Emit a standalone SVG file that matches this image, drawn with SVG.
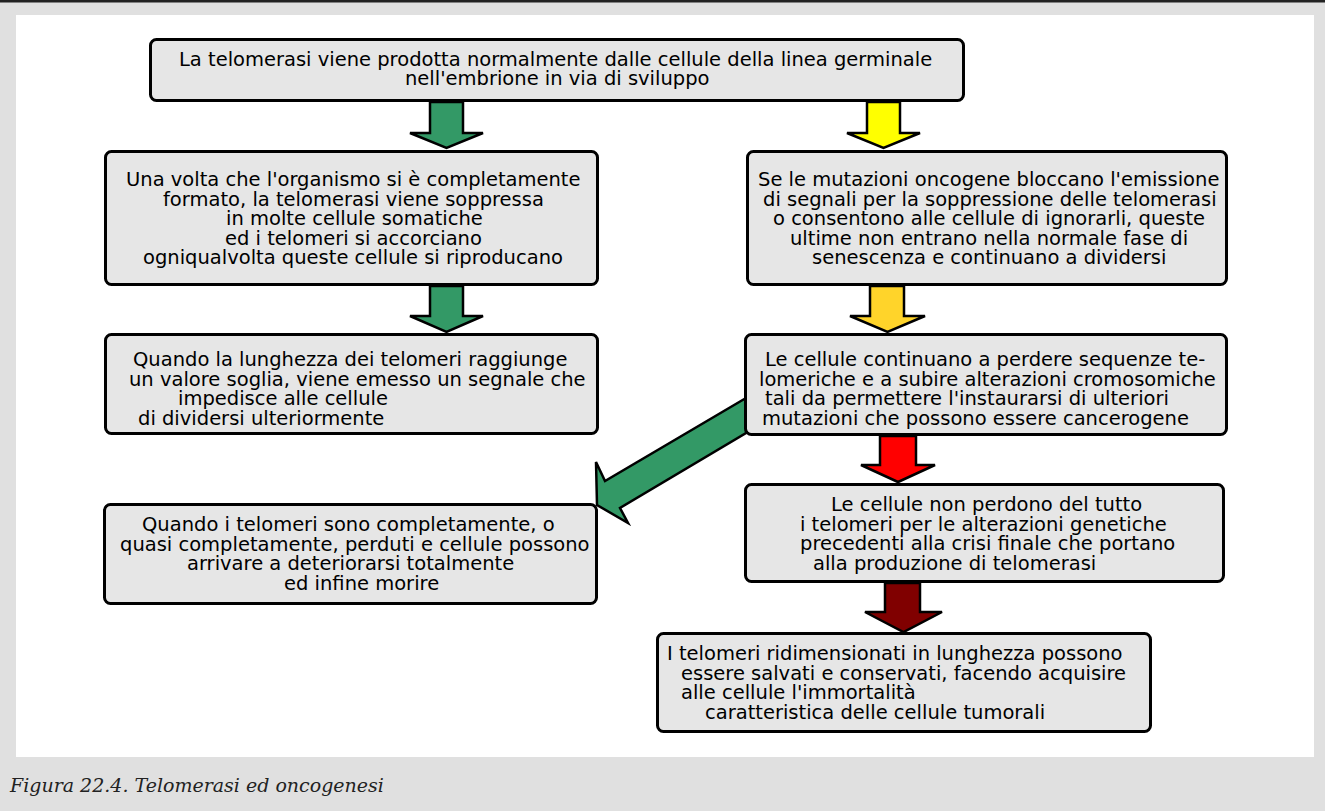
<svg xmlns="http://www.w3.org/2000/svg" width="1325" height="811" viewBox="0 0 1325 811">
  <style>
    .box { fill: #e6e6e6; stroke: #000; stroke-width: 3; }
    .arr { stroke: #000; stroke-width: 2.5; stroke-linejoin: miter; }
    .t { font-family: "DejaVu Sans", "Noto Sans", sans-serif; font-size: 19.5px; fill: #000; }
    .cap { font-family: "DejaVu Serif", "Liberation Serif", serif; font-style: italic; font-size: 19px; fill: #222; }
  </style>

  <!-- page frame -->
  <rect x="0" y="0" width="1325" height="811" fill="#e0e0e0"/>
  <rect x="0" y="0" width="1325" height="2.5" fill="#222"/>
  <rect x="16" y="15" width="1298" height="742" fill="#fff"/>

  <!-- block arrows -->
  <g id="connectors">
    <polygon class="arr" fill="#339966" points="430,102 463,102 463,133 483,133 446.5,148 410,133 430,133"/>
    <polygon class="arr" fill="#ffff00" points="867,102 900,102 900,133 920,133 883.5,148 847,133 867,133"/>
    <polygon class="arr" fill="#339966" points="430,286 463,286 463,316 483,316 446.5,332 410,316 430,316"/>
    <polygon class="arr" fill="#ffd42a" points="870,286 904,286 904,316 925,316 887.5,332 850,316 870,316"/>
    <polygon class="arr" fill="#ff0000" points="880,436 916,436 916,465 935,465 898,482 861,465 880,465"/>
    <polygon class="arr" fill="#800000" points="885,583 920,583 920,612 942,612 903.5,632 865,612 885,612"/>
    <polygon class="arr" fill="#339966" points="746,398 605,481 596,462 597,505 628,523 620,508 746,433"/>
  </g>

  <g id="n1">
    <rect class="box" x="150.5" y="39.5" width="813" height="61" rx="6"/>
    <text class="t"><tspan x="179" y="66">La telomerasi viene prodotta normalmente dalle cellule della linea germinale</tspan><tspan x="405" y="85">nell'embrione in via di sviluppo</tspan></text>
  </g>

  <g id="n2">
    <rect class="box" x="105.5" y="151.5" width="492" height="133" rx="6"/>
    <text class="t"><tspan x="126" y="186">Una volta che l'organismo si è completamente</tspan><tspan x="163" y="206">formato, la telomerasi viene soppressa</tspan><tspan x="226" y="225">in molte cellule somatiche</tspan><tspan x="225" y="245">ed i telomeri si accorciano</tspan><tspan x="143" y="264">ogniqualvolta queste cellule si riproducano</tspan></text>
  </g>

  <g id="n3">
    <rect class="box" x="747.5" y="151.5" width="479" height="133" rx="6"/>
    <text class="t"><tspan x="758" y="186">Se le mutazioni oncogene bloccano l'emissione</tspan><tspan x="763" y="206">di segnali per la soppressione delle telomerasi</tspan><tspan x="773" y="225">o consentono alle cellule di ignorarli, queste</tspan><tspan x="790" y="245">ultime non entrano nella normale fase di</tspan><tspan x="812" y="264">senescenza e continuano a dividersi</tspan></text>
  </g>

  <g id="n4">
    <rect class="box" x="105.5" y="334.5" width="492" height="99" rx="6"/>
    <text class="t"><tspan x="133" y="366">Quando la lunghezza dei telomeri raggiunge</tspan><tspan x="129" y="386">un valore soglia, viene emesso un segnale che</tspan><tspan x="178" y="405">impedisce alle cellule</tspan><tspan x="138" y="425">di dividersi ulteriormente</tspan></text>
  </g>

  <g id="n5">
    <rect class="box" x="745.5" y="334.5" width="481" height="100" rx="6"/>
    <text class="t"><tspan x="765" y="366">Le cellule continuano a perdere sequenze te-</tspan><tspan x="759" y="386">lomeriche e a subire alterazioni cromosomiche</tspan><tspan x="765" y="405">tali da permettere l'instaurarsi di ulteriori</tspan><tspan x="762" y="425">mutazioni che possono essere cancerogene</tspan></text>
  </g>

  <g id="n6">
    <rect class="box" x="104.5" y="504.5" width="492" height="99" rx="6"/>
    <text class="t"><tspan x="142" y="531">Quando i telomeri sono completamente, o</tspan><tspan x="120" y="551">quasi completamente, perduti e cellule possono</tspan><tspan x="187" y="570">arrivare a deteriorarsi totalmente</tspan><tspan x="284" y="590">ed infine morire</tspan></text>
  </g>

  <g id="n7">
    <rect class="box" x="745.5" y="484.5" width="478" height="97" rx="6"/>
    <text class="t"><tspan x="831" y="511">Le cellule non perdono del tutto</tspan><tspan x="800" y="531">i telomeri per le alterazioni genetiche</tspan><tspan x="800" y="550">precedenti alla crisi finale che portano</tspan><tspan x="813" y="570">alla produzione di telomerasi</tspan></text>
  </g>

  <g id="n8">
    <rect class="box" x="657.5" y="633.5" width="493" height="98" rx="6"/>
    <text class="t"><tspan x="667" y="660">I telomeri ridimensionati in lunghezza possono</tspan><tspan x="681" y="680">essere salvati e conservati, facendo acquisire</tspan><tspan x="681" y="699">alle cellule l'immortalità</tspan><tspan x="705" y="719">caratteristica delle cellule tumorali</tspan></text>
  </g>

  <text class="cap" x="10" y="792">Figura 22.4. Telomerasi ed oncogenesi</text>
</svg>
